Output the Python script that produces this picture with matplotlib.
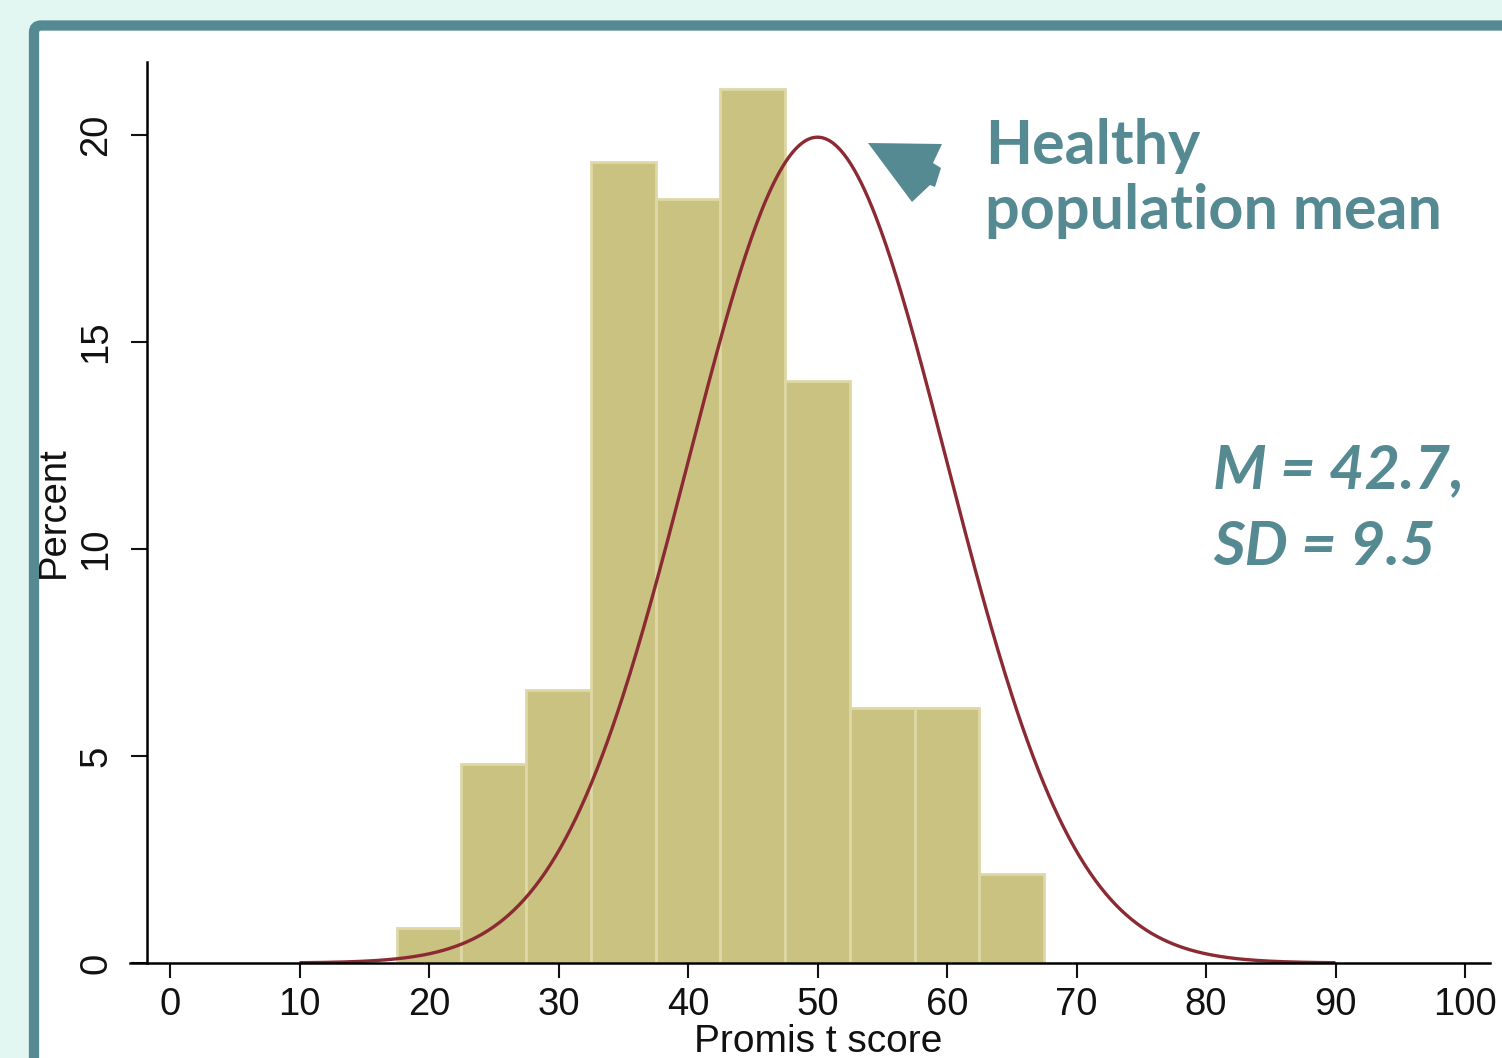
import numpy as np
import matplotlib
matplotlib.use("Agg")
import matplotlib.pyplot as plt
from matplotlib.patches import FancyBboxPatch, Polygon
from matplotlib.transforms import IdentityTransform

# ---- data ----
bin_left = [17.5, 22.5, 27.5, 32.5, 37.5, 42.5, 47.5, 52.5, 57.5, 62.5]
bin_width = 5
percents = [0.85, 4.8, 6.6, 19.35, 18.45, 21.1, 14.05, 6.15, 6.15, 2.15]
norm_mean = 50
norm_sd = 10
x_ticks = [0, 10, 20, 30, 40, 50, 60, 70, 80, 90, 100]
y_ticks = [0, 5, 10, 15, 20]

W, H = 1502, 1058
TEAL = "#558A93"
MINT = "#E2F6F2"
BAR = "#C9C281"
BAR_EDGE = "#DDD8A6"
CURVE = "#8B2A33"

fig = plt.figure(figsize=(W / 100, H / 100), dpi=100)
fig.patch.set_facecolor(MINT)

def px(x, y):
    return (x, H - y)

# white panel with teal frame
panel = FancyBboxPatch(px(34, 1120), 1600, 1120 - 25.5,
                       boxstyle="round,pad=0,rounding_size=7",
                       lw=7.4, ec=TEAL, fc="white",
                       transform=IdentityTransform(), zorder=0)
fig.add_artist(panel)

# axes placement (pixels)
x0_px, x100_px = 170, 1465
y0_px, y20_px = 963, 135
sx = (x100_px - x0_px) / 100.0
sy = (y0_px - y20_px) / 20.0
ax_left_px, ax_right_px, ax_top_px = 130, 1490, 62
ax = fig.add_axes([ax_left_px / W, (H - y0_px) / H,
                   (ax_right_px - ax_left_px) / W, (y0_px - ax_top_px) / H])
ax.set_facecolor("none")
ax.set_xlim((ax_left_px - x0_px) / sx, (ax_right_px - x0_px) / sx)
ax.set_ylim(0, (y0_px - ax_top_px) / sy)

ax.bar(bin_left, percents, width=bin_width, align="edge",
       color=BAR, edgecolor=BAR_EDGE, linewidth=2.0, zorder=2)

xs = np.linspace(10, 90, 600)
ys = 100 * bin_width * np.exp(-0.5 * ((xs - norm_mean) / norm_sd) ** 2) / (norm_sd * np.sqrt(2 * np.pi))
ax.plot(xs, ys, color=CURVE, lw=2.4, zorder=3, solid_capstyle="butt")

for s in ["top", "right"]:
    ax.spines[s].set_visible(False)
ax.spines["left"].set_position(("data", (147 - x0_px) / sx))
ax.spines["left"].set_linewidth(1.8)
ax.spines["bottom"].set_linewidth(1.8)
ax.spines["left"].set_zorder(4)
ax.spines["bottom"].set_zorder(4)

tick_font = dict(family="Liberation Sans", size=27.5)
ax.set_xticks(x_ticks)
ax.set_xticklabels([str(t) for t in x_ticks], fontdict=tick_font)
ax.set_yticks(y_ticks)
ax.set_yticklabels([str(t) for t in y_ticks], fontdict=tick_font, rotation=90, va="center")
ax.tick_params(axis="x", direction="out", length=11, width=1.5, pad=6, colors="#111111")
ax.tick_params(axis="y", direction="out", length=11.5, width=1.5, pad=12, colors="#111111")

# axis titles
fig.text(54 / W, 1 - 512 / H, "Percent", rotation=90, ha="center", va="center",
         family="Liberation Sans", size=27.5, color="#111111")
fig.text(818 / W, 1 - 1052 / H, "Promis t score", ha="center", va="baseline",
         family="Liberation Sans", size=28, color="#111111")

# annotation text
fig.text(985 / W, 1 - 164 / H, "Healthy", ha="left", va="baseline",
         family="Lato", weight="bold", size=44, color=TEAL)
fig.text(985 / W, 1 - 229 / H, "population mean", ha="left", va="baseline",
         family="Lato", weight="bold", size=44, color=TEAL)
fig.text(1213 / W, 1 - 488 / H, "M = 42.7,", ha="left", va="baseline",
         family="Lato", weight="bold", style="italic", size=44, color=TEAL)
fig.text(1213 / W, 1 - 565 / H, "SD = 9.5", ha="left", va="baseline",
         family="Lato", weight="bold", style="italic", size=44, color=TEAL)

# arrow shape
arrow_pts = [(868, 143), (942, 144), (933, 163), (941, 168), (935, 187), (930, 185), (912, 202)]
arrow = Polygon([px(x, y) for x, y in arrow_pts], closed=True, fc=TEAL, ec="none",
                transform=IdentityTransform(), zorder=5)
fig.add_artist(arrow)

fig.savefig("out.png", dpi=100, facecolor=fig.get_facecolor())
